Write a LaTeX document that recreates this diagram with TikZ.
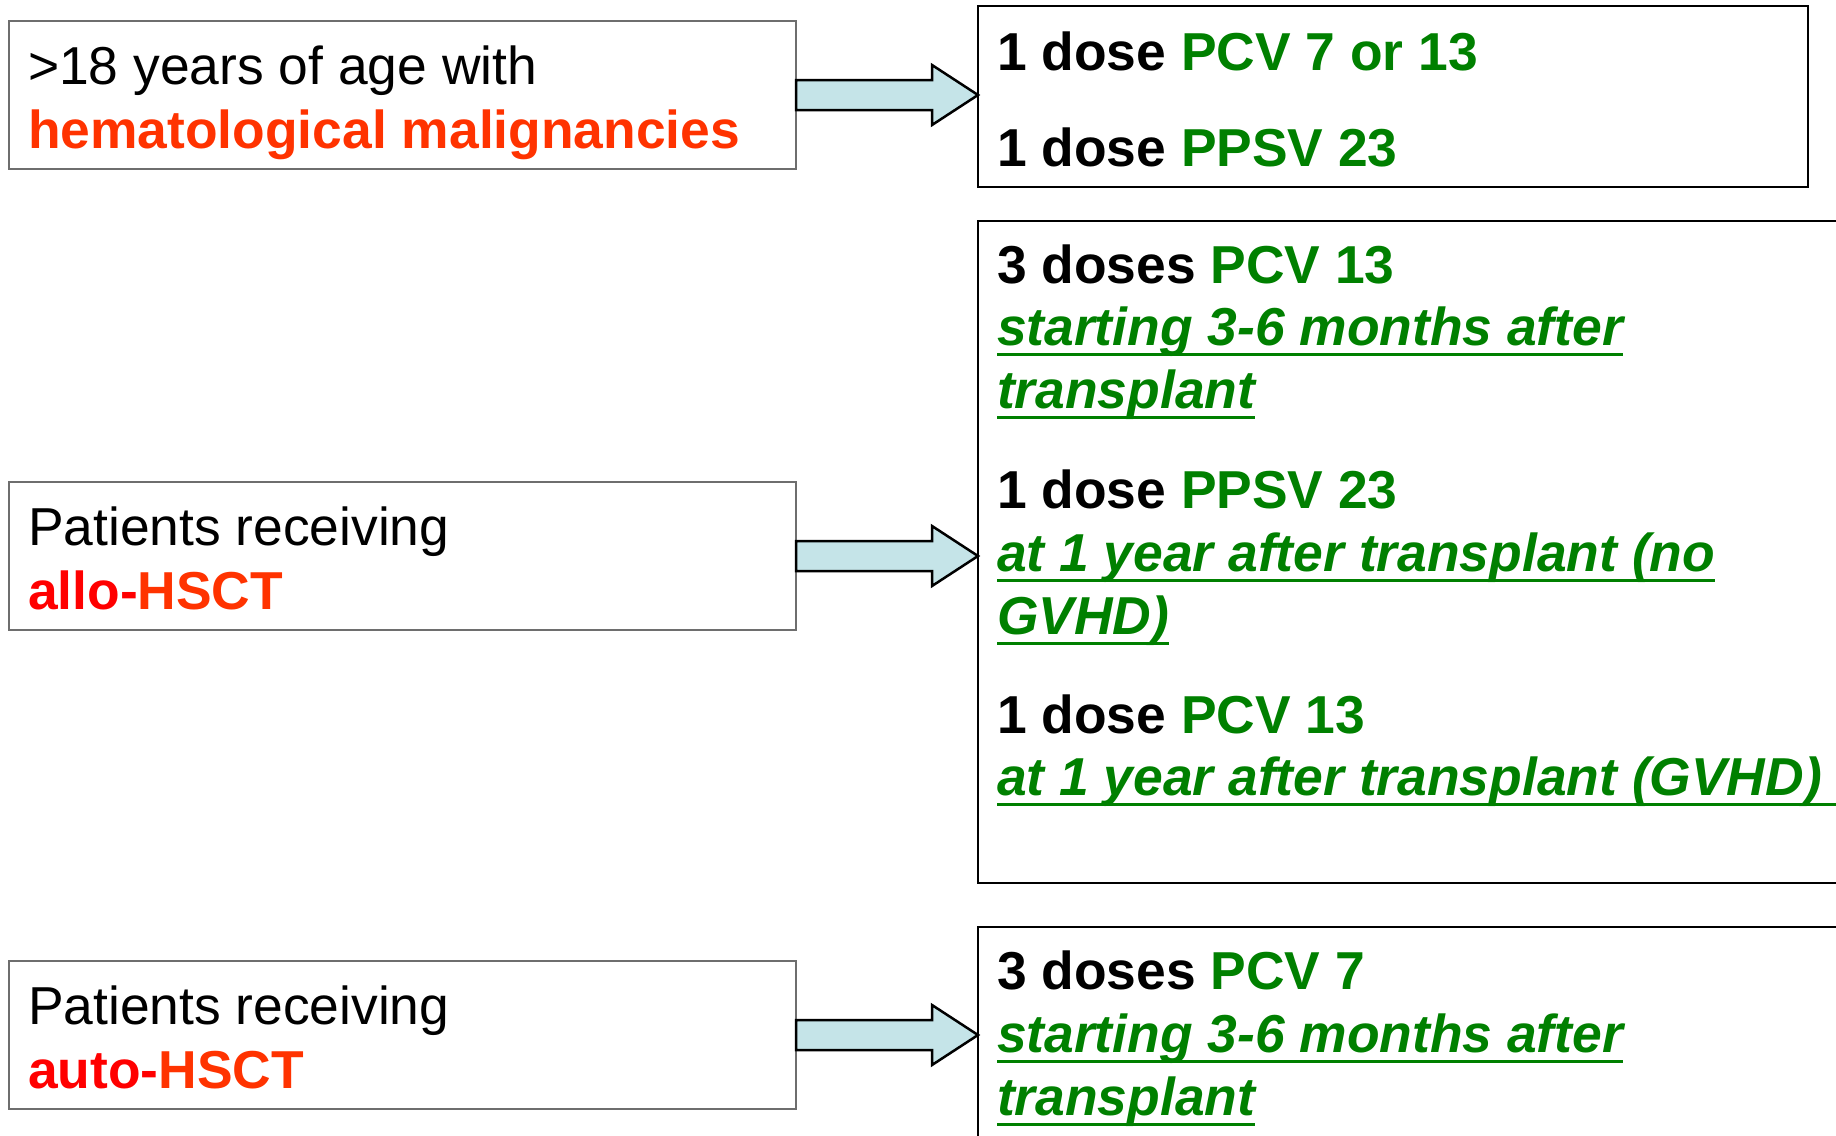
\documentclass[tikz,border=0pt]{standalone}
\usepackage{fontspec}
\setmainfont{Liberation Sans}
\usetikzlibrary{calc}
\definecolor{vgreen}{RGB}{0,128,0}
\definecolor{hred}{RGB}{255,51,0}
\definecolor{pred}{RGB}{255,0,0}
\definecolor{arrowfill}{RGB}{197,228,232}
\definecolor{lboxcol}{RGB}{110,110,110}
\newsavebox\ulbox
\newcommand{\ulg}[1]{\sbox\ulbox{#1}\rlap{\rule[-11pt]{\wd\ulbox}{3pt}}\usebox\ulbox}
\begin{document}
\begin{tikzpicture}[x=1pt,y=-1pt,
  txt/.style={anchor=base west, inner sep=0pt, outer sep=0pt, font=\fontsize{53.4}{63}\selectfont},
  leftbox/.style={draw=lboxcol, line width=1.5pt, anchor=north west, inner sep=0pt, outer sep=0pt, minimum width=787pt, minimum height=148pt},
  rightbox/.style={draw=black, line width=2.5pt, anchor=north west, inner sep=0pt, outer sep=0pt},
  fat/.style={draw=black, line width=2.5pt, fill=arrowfill, line join=miter}]
\useasboundingbox (0,0) rectangle (1836,1135);
\fill[white] (0,0) rectangle (1836,1135);
\clip (0,0) rectangle (1836,1135);

% boxes
\node[leftbox] (L1) at (9,21) {};
\node[leftbox] (L2) at (9,482) {};
\node[leftbox] (L3) at (9,961) {};
\node[rightbox, minimum width=830pt, minimum height=181pt] (R1) at (978,6) {};
\node[rightbox, minimum width=922pt, minimum height=662pt] (R2) at (978,221) {};
\node[rightbox, minimum width=922pt, minimum height=300pt] (R3) at (978,927) {};

% arrows
\foreach \a/\b in {L1/R1, L2/R2, L3/R3}{
  \coordinate (T\a) at (\a.east -| \b.west);
  \draw[fat] ($(\a.east)+(0,-15)$) -- ($(T\a)+(-46,-15)$) -- ($(T\a)+(-46,-30)$)
    -- (T\a) -- ($(T\a)+(-46,30)$) -- ($(T\a)+(-46,15)$) -- ($(\a.east)+(0,15)$) -- cycle;
}

% left texts
\node[txt] (l1a) at (28,84) {>18 years of age with};
\node[txt] (l1b) at (28,148) {\bfseries\color{hred}hematological malignancies};
\node[txt] (l2a) at (28,545) {Patients receiving};
\node[txt] (l2b) at (28,609) {\bfseries\textcolor{pred}{allo-}\textcolor{hred}{HSCT}};
\node[txt] (l3a) at (28,1024) {Patients receiving};
\node[txt] (l3b) at (28,1088) {\bfseries\textcolor{pred}{auto-}\textcolor{hred}{HSCT}};

% right box 1
\node[txt] (r1a) at (997,70) {\bfseries 1 dose \textcolor{vgreen}{PCV 7 or 13}};
\node[txt] (r1b) at (997,166) {\bfseries 1 dose \textcolor{vgreen}{PPSV 23}};

% right box 2
\node[txt] (r2a) at (997,283) {\bfseries 3 doses \textcolor{vgreen}{PCV 13}};
\node[txt] (r2b) at (997,345) {\bfseries\itshape\color{vgreen}\ulg{starting 3-6 months after}};
\node[txt] (r2c) at (997,408) {\bfseries\itshape\color{vgreen}\ulg{transplant}};
\node[txt] (r2d) at (997,508) {\bfseries 1 dose \textcolor{vgreen}{PPSV 23}};
\node[txt] (r2e) at (997,571) {\bfseries\itshape\color{vgreen}\ulg{at 1 year after transplant (no}};
\node[txt] (r2f) at (997,634) {\bfseries\itshape\color{vgreen}\ulg{GVHD)}};
\node[txt] (r2g) at (997,733) {\bfseries 1 dose \textcolor{vgreen}{PCV 13}};
\node[txt] (r2h) at (997,795) {\bfseries\itshape\color{vgreen}\ulg{at 1 year after transplant (GVHD)\ }};

% right box 3
\node[txt] (r3a) at (997,989) {\bfseries 3 doses \textcolor{vgreen}{PCV 7}};
\node[txt] (r3b) at (997,1052) {\bfseries\itshape\color{vgreen}\ulg{starting 3-6 months after}};
\node[txt] (r3c) at (997,1115) {\bfseries\itshape\color{vgreen}\ulg{transplant}};
\end{tikzpicture}
\end{document}
